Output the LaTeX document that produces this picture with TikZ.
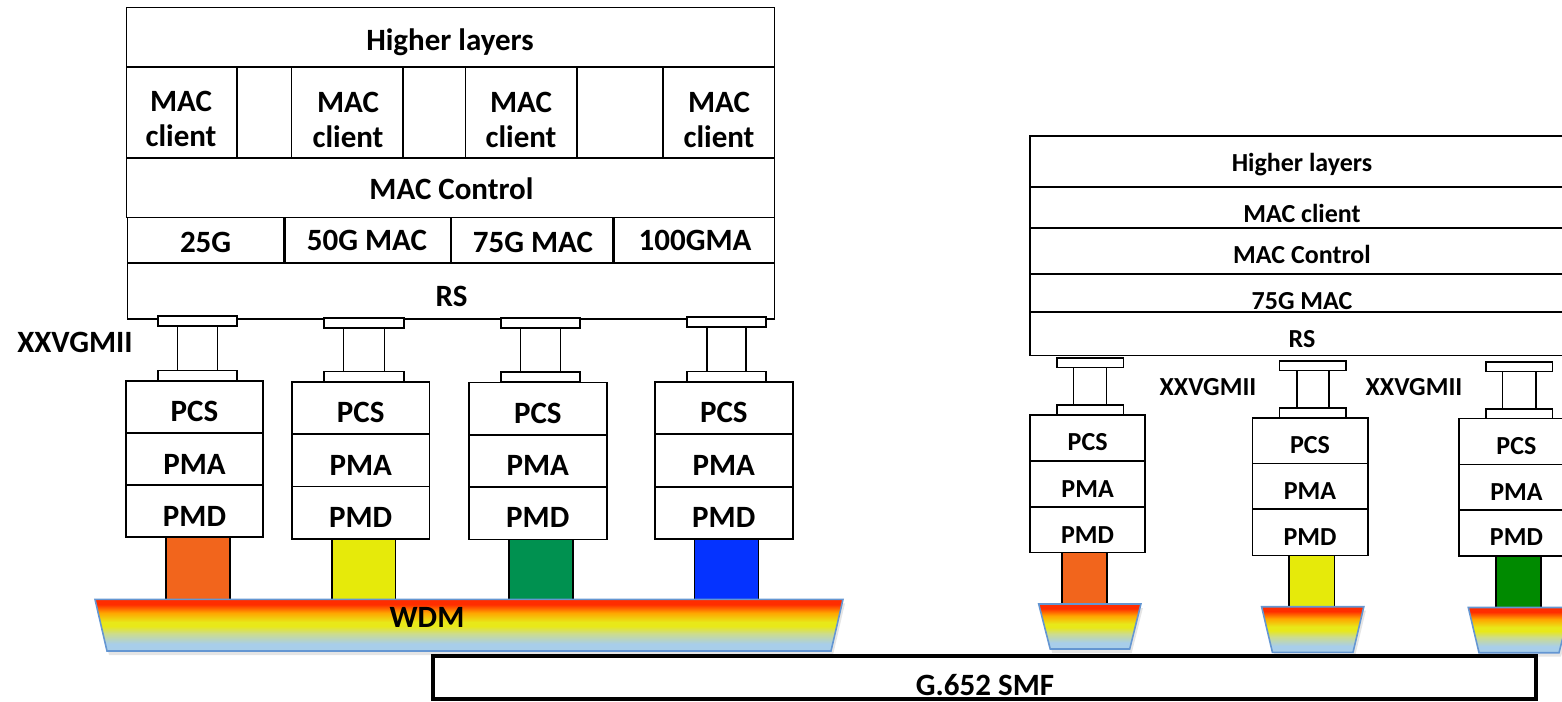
\documentclass[tikz,border=0pt]{standalone}
\usepackage{fontspec}
\setmainfont{Carlito}
\usetikzlibrary{calc}
\definecolor{wred}{RGB}{255,45,0}
\definecolor{worange}{RGB}{255,165,0}
\definecolor{wyellow}{RGB}{232,232,25}
\definecolor{wgreenish}{RGB}{205,220,140}
\definecolor{wblue}{RGB}{168,206,234}
\definecolor{wedge}{RGB}{100,150,210}
\definecolor{forange}{RGB}{242,101,28}
\definecolor{fyellow}{RGB}{230,234,10}
\definecolor{fgreen}{RGB}{0,145,80}
\definecolor{fblue}{RGB}{5,51,255}
\definecolor{fgreenb}{RGB}{0,138,0}
\pgfdeclareverticalshading{wdmshade}{100bp}{color(0bp)=(wblue); color(25bp)=(wblue); color(32bp)=(wblue); color(42bp)=(wgreenish); color(49bp)=(wyellow); color(53bp)=(wyellow); color(62bp)=(worange); color(70bp)=(wred); color(100bp)=(wred)}
\tikzset{
  lay/.style={draw, line width=1.6pt, fill=white, inner sep=0pt, outer sep=0pt, rectangle},
  lt/.style={font=\fontsize{31}{35}\selectfont\bfseries, inner sep=0pt, text height=19.6pt, text depth=0pt},
  rt/.style={font=\fontsize{26}{30}\selectfont\bfseries, inner sep=0pt, text height=16.4pt, text depth=0pt},
  post/.style={draw, line width=1.6pt},
  wdm/.style={draw=wedge, line width=1.6pt, shading=wdmshade},
  wshadow/.style={fill=black, opacity=0.10},
}
% name, x1, y1, x2, y2 (pixel coordinates, y downwards)
\newcommand{\layerrect}[6][]{%
  \pgfmathsetmacro\LRw{(#5)-(#3)}%
  \pgfmathsetmacro\LRh{(#6)-(#4)}%
  \pgfmathsetmacro\LRx{((#3)+(#5))/2}%
  \pgfmathsetmacro\LRy{((#4)+(#6))/2}%
  \node[lay, minimum width=\LRw pt, minimum height=\LRh pt, #1] (#2) at (\LRx,\LRy) {};}
% name, cx, ytop, ybot, half width, post offset, plate height
\newcommand{\xgspool}[7]{%
  \layerrect{#1t}{(#2)-(#5)}{#3}{(#2)+(#5)}{(#3)+(#7)}%
  \layerrect{#1b}{(#2)-(#5)}{(#4)-(#7)}{(#2)+(#5)}{#4}%
  \draw[post] ([xshift=-#6pt]#1t.south) -- ([xshift=-#6pt]#1b.north);
  \draw[post] ([xshift=#6pt]#1t.south) -- ([xshift=#6pt]#1b.north);}
\begin{document}
\begin{tikzpicture}[x=1pt,y=-1pt]
\useasboundingbox (0,0) rectangle (1562,701);
\clip (0,0) rectangle (1562,701);

% ---------------- left block ----------------
\layerrect{lhl}{126.5}{7.5}{774.5}{67}
\layerrect{lmc}{126.5}{158}{774.5}{217.5}
\layerrect{lc1}{126.5}{67}{237}{158}
\layerrect{lc2}{291.5}{67}{403}{158}
\layerrect{lc3}{465.5}{67}{577}{158}
\layerrect{lc4}{663}{67}{774.5}{158}
\layerrect{lm1}{127.5}{217.5}{284}{263}
\layerrect{lm2}{285.5}{217.5}{450.5}{263}
\layerrect{lm3}{451.5}{217.5}{613}{263}
\layerrect{lm4}{614}{217.5}{774.5}{263}
\layerrect{lrs}{127.5}{263}{774.5}{319}

\node[lt] (lhlt) at (450,41) {Higher layers};
\node[lt] (lc1a) at (181,102) {MAC};
\node[lt] (lc1b) at (181,137) {client};
\node[lt] (lc2a) at (348,103) {MAC};
\node[lt] (lc2b) at (348,138) {client};
\node[lt] (lc3a) at (521,103) {MAC};
\node[lt] (lc3b) at (521,138) {client};
\node[lt] (lc4a) at (719,103) {MAC};
\node[lt] (lc4b) at (719,138) {client};
\node[lt] (lmct) at (451.5,190) {MAC Control};
\node[lt] (lm1t) at (205.6,243) {25G};
\node[lt] (lm2t) at (367,240.7) {50G MAC};
\node[lt] (lm3t) at (533,243) {75G MAC};
\node[lt] (lm4t) at (695,240.5) {100GMA};
\node[lt] (lrst) at (451.5,297) {RS};
\node[lt] (lxx) at (75,343) {XXVGMII};

% left fibers (under WDM)
\layerrect[fill=forange]{lf1}{165.7}{537}{229.8}{600}
\layerrect[fill=fyellow]{lf2}{331.9}{539}{395.5}{600}
\layerrect[fill=fgreen]{lf3}{509}{539.3}{573}{600}
\layerrect[fill=fblue]{lf4}{694.5}{539}{758.6}{600}

% left stacks
\layerrect{ls1a}{126}{380.7}{263}{432.7}
\layerrect{ls1b}{126}{432.7}{263}{485}
\layerrect{ls1c}{126}{485}{263}{537}
\layerrect{ls2a}{292}{381.7}{429.5}{434}
\layerrect{ls2b}{292}{434}{429.5}{486.3}
\layerrect{ls2c}{292}{486.3}{429.5}{539}
\layerrect{ls3a}{469}{382.3}{606.7}{434.7}
\layerrect{ls3b}{469}{434.7}{606.7}{487}
\layerrect{ls3c}{469}{487}{606.7}{539.3}
\layerrect{ls4a}{655}{381.7}{792.7}{434}
\layerrect{ls4b}{655}{434}{792.7}{486.7}
\layerrect{ls4c}{655}{486.7}{792.7}{539}

\node[lt] (ls1at) at (194.5,411.7) {PCS};
\node[lt] (ls1bt) at (194.5,465) {PMA};
\node[lt] (ls1ct) at (194.5,516.7) {PMD};
\node[lt] (ls2at) at (360.7,412.7) {PCS};
\node[lt] (ls2bt) at (360.7,465.7) {PMA};
\node[lt] (ls2ct) at (360.7,517.7) {PMD};
\node[lt] (ls3at) at (537.8,413.3) {PCS};
\node[lt] (ls3bt) at (537.8,466) {PMA};
\node[lt] (ls3ct) at (537.8,517.7) {PMD};
\node[lt] (ls4at) at (723.8,412.7) {PCS};
\node[lt] (ls4bt) at (723.8,465.7) {PMA};
\node[lt] (ls4ct) at (723.8,517.7) {PMD};

% left XXVGMII spools
\xgspool{lsp1}{197.5}{316}{380.5}{39.5}{20}{10}
\xgspool{lsp2}{364}{318}{381.5}{40}{20.5}{10}
\xgspool{lsp3}{540.5}{318}{382}{39.5}{20}{10}
\xgspool{lsp4}{726.5}{317}{381.5}{39.5}{19.5}{10}

% WDM
\fill[wshadow, shift={(2,4)}] (95,599.3) -- (843,599.3) -- (831,651) -- (107,651) -- cycle;
\shadedraw[wdm] (95,599.3) -- (843,599.3) -- (831,651) -- (107,651) -- cycle;
\node[lt] (wdmt) at (427,617.8) {WDM};

% G.652 SMF
\layerrect[line width=4pt]{smf}{433}{656}{1536}{698.5}
\node[lt] (smft) at (985,685.5) {G.652 SMF};

% ---------------- right block ----------------
\layerrect{rhl}{1030}{135.7}{1572}{186.7}
\layerrect{rmc}{1030}{186.7}{1572}{227.7}
\layerrect{rctl}{1030}{227.7}{1572}{273.7}
\layerrect{rmac}{1030}{273.7}{1572}{312}
\layerrect{rrs}{1030}{312}{1572}{355.3}
\node[rt] (rhlt) at (1302,163.3) {Higher layers};
\node[rt] (rmct) at (1302,214.3) {MAC client};
\node[rt] (rctlt) at (1302,255) {MAC Control};
\node[rt] (rmact) at (1302,301) {75G MAC};
\node[rt] (rrst) at (1302,339.7) {RS};
\node[rt] (rxx1) at (1208,387.5) {XXVGMII};
\node[rt] (rxx2) at (1414,387.5) {XXVGMII};

% right fibers
\layerrect[fill=forange]{rf1}{1062}{552.3}{1107.2}{604}
\layerrect[fill=fyellow]{rf2}{1289.2}{555.3}{1334.4}{606.7}
\layerrect[fill=fgreenb]{rf3}{1495.7}{556}{1541}{607.5}

% right stacks
\layerrect{rs1a}{1030}{414.7}{1145.2}{461}
\layerrect{rs1b}{1030}{461}{1145.2}{506.7}
\layerrect{rs1c}{1030}{506.7}{1145.2}{552.3}
\layerrect{rs2a}{1252.3}{417.7}{1367.7}{463.3}
\layerrect{rs2b}{1252.3}{463.3}{1367.7}{509}
\layerrect{rs2c}{1252.3}{509}{1367.7}{555.3}
\layerrect{rs3a}{1458.7}{418.3}{1574}{464.3}
\layerrect{rs3b}{1458.7}{464.3}{1574}{510}
\layerrect{rs3c}{1458.7}{510}{1574}{556}
\node[rt] (rs1at) at (1087.6,442.7) {PCS};
\node[rt] (rs1bt) at (1087.6,489.3) {PMA};
\node[rt] (rs1ct) at (1087.6,535) {PMD};
\node[rt] (rs2at) at (1310,445) {PCS};
\node[rt] (rs2bt) at (1310,491.7) {PMA};
\node[rt] (rs2ct) at (1310,537.3) {PMD};
\node[rt] (rs3at) at (1516.4,446) {PCS};
\node[rt] (rs3bt) at (1516.4,492) {PMA};
\node[rt] (rs3ct) at (1516.4,537.3) {PMD};

% right spools
\xgspool{rsp1}{1090}{357.7}{414.7}{33.3}{16.5}{9.6}
\xgspool{rsp2}{1312.8}{360.7}{417.7}{33.2}{16}{9.6}
\xgspool{rsp3}{1519.2}{361.7}{418.3}{33.2}{16.8}{9.6}

% right mini WDMs
\fill[wshadow, shift={(2,4)}] (1038.7,604) -- (1140.9,604) -- (1129.7,649) -- (1050.2,649) -- cycle;
\shadedraw[wdm] (1038.7,604) -- (1140.9,604) -- (1129.7,649) -- (1050.2,649) -- cycle;
\fill[wshadow, shift={(2,4)}] (1261.6,606.7) -- (1363.8,606.7) -- (1353,652.3) -- (1272.4,652.3) -- cycle;
\shadedraw[wdm] (1261.6,606.7) -- (1363.8,606.7) -- (1353,652.3) -- (1272.4,652.3) -- cycle;
\fill[wshadow, shift={(2,4)}] (1468.3,607.5) -- (1570.5,607.5) -- (1559,652.7) -- (1479,652.7) -- cycle;
\shadedraw[wdm] (1468.3,607.5) -- (1570.5,607.5) -- (1559,652.7) -- (1479,652.7) -- cycle;
\end{tikzpicture}
\end{document}
